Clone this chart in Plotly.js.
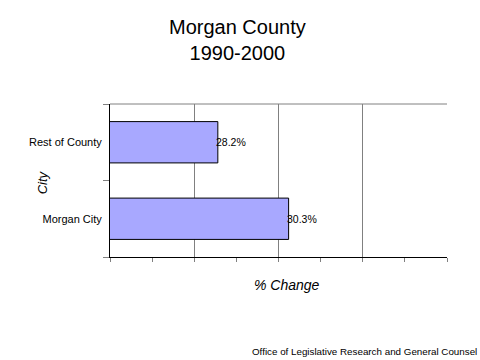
<!DOCTYPE html>
<html>
<head>
<meta charset="utf-8">
<script src="https://cdn.plot.ly/plotly-3.0.1.min.js"></script>
<style>html,body{margin:0;padding:0;background:#fff;}#chart{width:480px;height:360px;}</style>
</head>
<body>
<div id="chart"></div>
<script>
const cities = ['Morgan City', 'Rest of County'];
const pctChange = [30.3, 28.2];
const valueLabels = ['30.3%', '28.2%'];

const FONT = 'Liberation Sans, Arial, sans-serif';

const trace = {
  type: 'bar',
  orientation: 'h',
  y: cities,
  x: pctChange,
  width: 0.54,
  marker: { color: '#a8a8ff', line: { color: '#000000', width: 1 } },
  hoverinfo: 'none'
};

const valueAnnotations = cities.map((c, i) => ({
  x: pctChange[i], y: c, xref: 'x', yref: 'y',
  text: valueLabels[i], showarrow: false,
  xanchor: 'left', xshift: -4,
  font: { family: FONT, size: 10.5, color: '#000' }
}));

const layout = {
  width: 480, height: 360,
  margin: { l: 110, r: 33, t: 104, b: 103 },
  paper_bgcolor: '#fff', plot_bgcolor: '#fff',
  showlegend: false,
  xaxis: {
    range: [25, 35], dtick: 2.5, tick0: 25,
    showticklabels: false,
    showgrid: true, gridcolor: '#808080', gridwidth: 1,
    zeroline: false,
    showline: true, linecolor: '#000', linewidth: 1,
    ticks: 'outside', ticklen: 4, tickcolor: '#808080',
    minor: { dtick: 1.25, ticks: 'outside', ticklen: 4, tickcolor: '#808080', showgrid: false },
    fixedrange: true
  },
  yaxis: {
    type: 'category',
    categoryorder: 'array', categoryarray: cities,
    tickson: 'boundaries',
    ticks: 'outside', ticklen: 6, tickcolor: '#808080',
    ticklabelstandoff: 5,
    showline: true, linecolor: '#000', linewidth: 1,
    showgrid: false, zeroline: false,
    tickfont: { family: FONT, size: 11, color: '#000' },
    fixedrange: true
  },
  shapes: [
    { type: 'line', xref: 'paper', yref: 'paper', x0: 0, x1: 1, y0: 1, y1: 1,
      line: { color: '#808080', width: 1 } }
  ],
  annotations: valueAnnotations.concat([
    { text: 'Morgan County<br>1990-2000', xref: 'paper', yref: 'paper', x: 0.378, y: 1.42,
      xanchor: 'center', yanchor: 'middle', showarrow: false,
      font: { family: FONT, size: 20, color: '#000' } },
    { text: 'City', xref: 'paper', yref: 'paper', x: -0.201, y: 0.49, textangle: -90,
      xanchor: 'center', yanchor: 'middle', showarrow: false,
      font: { family: FONT, size: 13, color: '#000', style: 'italic' } },
    { text: '% Change', xref: 'paper', yref: 'paper', x: 0.525, y: -0.18,
      xanchor: 'center', yanchor: 'middle', showarrow: false,
      font: { family: FONT, size: 14, color: '#000', style: 'italic' } },
    { text: 'Office of Legislative Research and General Counsel', xref: 'paper', yref: 'paper',
      x: 1.095, y: -0.615, xanchor: 'right', yanchor: 'middle', showarrow: false,
      font: { family: FONT, size: 9.8, color: '#000' } }
  ])
};

Plotly.newPlot('chart', [trace], layout, { staticPlot: true, displayModeBar: false });
</script>
</body>
</html>
